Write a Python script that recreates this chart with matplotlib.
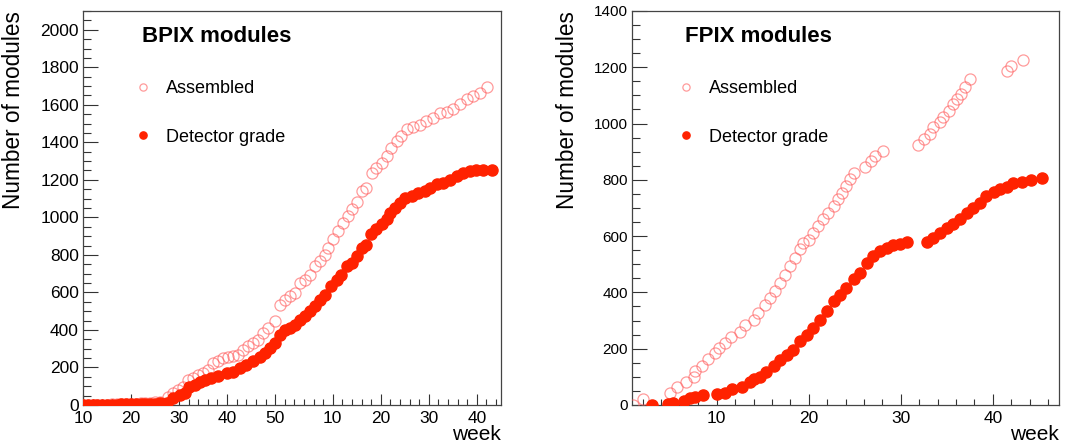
"""
Pixel module production: BPIX and FPIX cumulative counts per week.
"""

import matplotlib.pyplot as plt
from matplotlib.ticker import MultipleLocator

plt.rcParams["font.family"] = ["Liberation Sans", "DejaVu Sans"]

# ---- BPIX (continuous week scale, 62 = week 10 of the next year)
bpix_asm_week = [10, 11, 12, 13, 14, 15, 16, 17, 18, 19, 20, 21, 22, 23, 24, 25,
                 26.0, 27.7, 28.75, 29.8, 30.8, 31.9, 32.9, 34.0, 35.0, 36.0, 37.1,
                 38.1, 39.2, 40.2, 41.25, 42.3, 43.3, 44.4, 45.4, 46.5, 47.5, 48.5,
                 49.9, 51.0, 52.0, 53.1, 54.1, 55.1, 56.2, 57.2, 58.3, 59.3, 60.3,
                 61.0, 62.1, 63.1, 64.2, 65.2, 65.9, 67.0, 68.0, 69.0, 70.1, 71.1,
                 72.2, 73.2, 74.2, 75.3, 76.3, 77.4, 78.75, 80.1, 81.5, 82.9, 84.3,
                 85.7, 87.1, 88.5, 89.9, 91.25, 92.6, 94.2]
bpix_asm = [0, 0, 1, 1, 2, 2, 3, 4, 4, 5, 6, 7, 8, 10, 12, 14,
            18, 45, 62, 80, 98, 134, 143, 160, 169, 187, 223,
            237, 249, 258, 262, 267, 294, 312, 330, 347, 383, 410,
            445, 535, 561, 579, 597, 650, 668, 695, 740, 766, 802,
            838, 886, 927, 971, 1007, 1042, 1082, 1140, 1158, 1238, 1265,
            1292, 1328, 1372, 1408, 1434, 1470, 1484, 1491, 1515, 1529, 1556,
            1559, 1577, 1604, 1630, 1648, 1661, 1693]

bpix_det_week = [10, 11, 12, 13, 14, 15, 16, 17, 18, 19, 20, 21, 22, 23, 24, 25, 26,
                 27.4, 28.75, 30.1, 31.2, 32.1, 33.3, 34.3, 35.3, 36.7, 38.1, 39.9,
                 41.25, 42.6, 44.0, 45.4, 46.8, 47.8, 48.9, 49.9, 51.0, 52.0, 53.1,
                 54.1, 55.1, 56.2, 57.2, 58.3, 59.3, 60.3, 61.7, 62.8, 63.8, 64.9,
                 65.9, 67.0, 68.0, 69.0, 69.9, 71.1, 72.2, 73.2, 74.0, 74.9, 76.0,
                 77.0, 78.4, 79.8, 81.2, 82.2, 83.6, 85.0, 86.4, 87.8, 89.2, 90.6,
                 91.9, 93.3, 95.1]
bpix_det = [0, 0, 0, 0, 0, 1, 2, 2, 3, 3, 3, 4, 4, 5, 5, 6, 8,
            10, 35, 53, 62, 94, 107, 121, 134, 143, 155, 169,
            178, 196, 214, 232, 258, 276, 303, 330, 374, 401, 410,
            428, 454, 472, 499, 526, 561, 588, 633, 668, 695, 740,
            757, 793, 838, 855, 909, 936, 962, 989, 1025, 1051, 1075,
            1105, 1114, 1128, 1140, 1158, 1176, 1185, 1197, 1221, 1235, 1247,
            1253, 1253, 1251]

bpix_tick_pos = [10, 20, 30, 40, 50, 62, 72, 82, 92]
bpix_tick_lab = ["10", "20", "30", "40", "50", "10", "20", "30", "40"]

# ---- FPIX
fpix_asm_week = [0.9, 2.0, 4.9, 5.65, 6.7, 7.5, 7.65, 8.4, 9.1, 9.8, 10.3, 10.9,
                 11.6, 12.5, 13.1, 14.0, 14.5, 15.25, 15.8, 16.3, 16.9, 17.4, 18.0,
                 18.5, 19.1, 19.4, 20.0, 20.5, 21.05, 21.6, 22.1, 22.7, 23.2, 23.6,
                 24.1, 24.5, 24.9, 26.1, 26.8, 27.2, 28.1,
                 31.9, 32.5, 33.2, 33.55, 34.3, 34.6, 35.2, 35.7, 36.1, 36.6, 37.0,
                 37.5, 41.5, 41.95, 43.3]
fpix_asm = [0, 21, 42, 63, 83, 101, 122, 139, 163, 184, 202, 222,
            240, 261, 285, 303, 327, 357, 380, 404, 434, 463, 493,
            523, 553, 576, 588, 612, 636, 660, 683, 707, 731, 755,
            778, 802, 826, 844, 868, 885, 903,
            925, 945, 963, 986, 1004, 1022, 1046, 1070, 1087, 1105, 1129,
            1159, 1188, 1206, 1227]

fpix_det_week = [3.0, 4.75, 5.3, 6.4, 7.1, 7.6, 8.5, 10.0, 10.9, 11.7, 12.7, 13.6,
                 14.0, 14.7, 15.4, 16.2, 16.9, 17.6, 18.3, 19.1, 19.8, 20.5, 21.2,
                 22.0, 22.7, 23.4, 24.1, 24.9, 25.6, 26.3, 27.0, 27.75, 28.5, 29.2,
                 29.9, 30.65, 32.8, 33.55, 34.3, 35.0, 35.7, 36.4, 37.2, 37.9, 38.6,
                 39.3, 40.1, 40.8, 41.5, 42.2, 43.15, 44.2, 45.3]
fpix_det = [0, 4, 8, 15, 24, 30, 36, 39, 44, 56, 65, 80,
            92, 99, 119, 137, 160, 178, 196, 226, 250, 273, 303,
            333, 368, 392, 416, 446, 469, 505, 529, 547, 559, 567,
            573, 580, 580, 594, 612, 630, 642, 660, 683, 701, 719,
            743, 757, 767, 776, 790, 793, 799, 806]

fpix_tick_pos = [10, 20, 30, 40]
fpix_tick_lab = ["10", "20", "30", "40"]

red = "#ff2200"
asm_color = (1.0, 0.35, 0.35, 0.6)

fig = plt.figure(figsize=(10.68, 4.43), dpi=100)
ax1 = fig.add_axes([0.0777, 0.0858, 0.3913, 0.8894])
ax2 = fig.add_axes([0.5918, 0.0858, 0.3998, 0.8894])

panels = [
    (ax1, "BPIX modules", bpix_asm_week, bpix_asm, bpix_det_week, bpix_det,
     bpix_tick_pos, bpix_tick_lab, (10, 97), 2100, 12.5, -0.138, 0.141),
    (ax2, "FPIX modules", fpix_asm_week, fpix_asm, fpix_det_week, fpix_det,
     fpix_tick_pos, fpix_tick_lab, (0.8, 47.2), 1400, 11, -0.125, 0.124),
]

for (ax, title, aw, av, dw, dv, tpos, tlab, xlim, ymax, ysize,
     ylab_x, title_x) in panels:
    ax.plot(aw, av, "o", ms=8, mfc="none", mec=asm_color, mew=0.9,
            label="Assembled", zorder=3)
    ax.plot(dw, dv, "o", ms=8, color=red, mec=red, label="Detector grade",
            zorder=4)

    ax.set_xlim(*xlim)
    ax.set_ylim(0, ymax)
    ax.set_xticks(tpos)
    ax.set_xticklabels(tlab)
    ax.xaxis.set_minor_locator(MultipleLocator(2))
    ax.yaxis.set_major_locator(MultipleLocator(200))
    ax.yaxis.set_minor_locator(MultipleLocator(50))

    ax.tick_params(axis="both", which="both", direction="in", top=False,
                   right=False, color="#333333", width=0.8)
    ax.tick_params(axis="y", which="major", length=11, labelsize=ysize, pad=3)
    ax.tick_params(axis="y", which="minor", length=6)
    ax.tick_params(axis="x", which="major", length=8, labelsize=12.5, pad=4)
    ax.tick_params(axis="x", which="minor", length=4)
    for sp in ax.spines.values():
        sp.set_color("#444444")
        sp.set_linewidth(0.9)

    ax.set_ylabel("Number of modules", fontsize=16.3, loc="top")
    ax.yaxis.set_label_coords(ylab_x, 1.0)
    ax.text(1.0, -0.089, "week", transform=ax.transAxes, ha="right",
            va="baseline", fontsize=15)
    ax.text(title_x, 0.934, title, transform=ax.transAxes, ha="left",
            va="center", fontsize=16, fontweight="bold")

    ax.legend(loc="upper left", bbox_to_anchor=(title_x - 0.015, 0.825),
              frameon=False, fontsize=13, markerscale=0.65, handlelength=0.8,
              handletextpad=0.9, labelspacing=1.75, borderpad=0,
              borderaxespad=0)

fig.savefig("out.png", dpi=100)
